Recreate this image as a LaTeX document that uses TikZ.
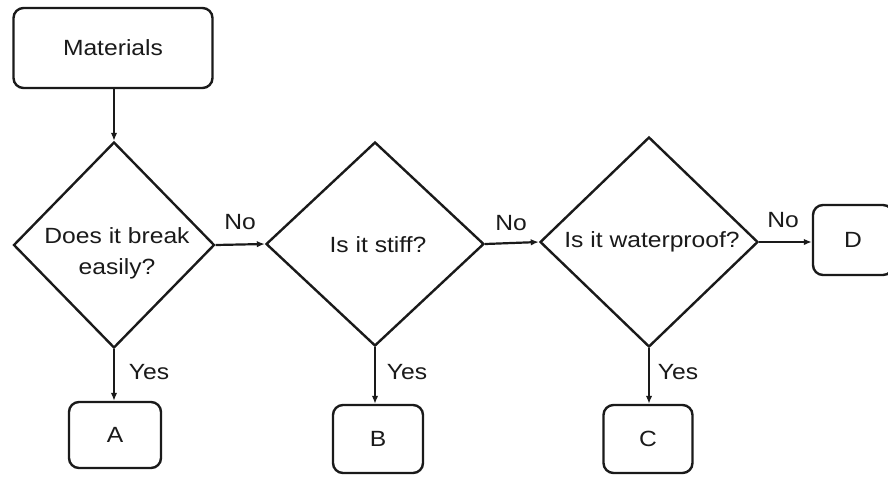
\documentclass[tikz,border=0pt]{standalone}
\usepackage{fontspec}
\setmainfont{Liberation Sans}[FakeStretch=1.12]
\usetikzlibrary{shapes.geometric,arrows.meta}
\definecolor{ink}{HTML}{1A1A1A}
\begin{document}
\begin{tikzpicture}[x=1pt,y=-1pt,
  every node/.style={font=\fontsize{22}{31}\selectfont, text=ink},
  box/.style={draw=ink, line width=2.4pt, rounded corners=10pt, inner sep=0pt},
  ques/.style={draw=ink, line width=2.4pt, diamond, inner sep=0pt},
  conn/.style={draw=ink, line width=2.2pt, -{Latex[length=8pt,width=6.5pt]}},
  lbl/.style={inner sep=0pt}
]
\useasboundingbox (0,0) rectangle (888,477);
\fill[white] (0,0) rectangle (888,477);
\clip (0,0) rectangle (888,477);

\node[box, minimum width=199pt, minimum height=80pt] (mat) at (113,48) {Materials};

\node[ques, minimum width=201pt, minimum height=206pt] (q1) at (114,245) {};
\node[ques, minimum width=218pt, minimum height=204pt] (q2) at (375,244) {};
\node[ques, minimum width=218pt, minimum height=210pt] (q3) at (649,242) {};

\node[lbl, align=center] (t1) at (117,253) {Does it break\\easily?};
\node[lbl] (t2) at (378,245) {Is it stiff?};
\node[lbl] (t3) at (652,242) {Is it waterproof?};

\node[box, minimum width=80pt, minimum height=70pt] (D) at (853,240) {D};
\node[box, minimum width=92pt, minimum height=66pt] (A) at (115,435) {A};
\node[box, minimum width=90pt, minimum height=68pt] (B) at (378,439) {B};
\node[box, minimum width=89pt, minimum height=68pt] (C) at (648,439) {C};

\draw[conn] (mat.south -| q1.north) -- (q1.north);
\draw[conn] (q1.east) -- (q2.west);
\draw[conn] (q2.east) -- (q3.west);
\draw[conn] (q3.east) -- (q3.east -| D.west);
\draw[conn] (q1.south) -- (q1.south |- A.north);
\draw[conn] (q2.south) -- (q2.south |- B.north);
\draw[conn] (q3.south) -- (q3.south |- C.north);

\node[lbl] (no1) at (240,222) {No};
\node[lbl] (no2) at (511,223) {No};
\node[lbl] (no3) at (783,220) {No};
\node[lbl] (yes1) at (149,372) {Yes};
\node[lbl] (yes2) at (407,372) {Yes};
\node[lbl] (yes3) at (678,372) {Yes};
\end{tikzpicture}
\end{document}
